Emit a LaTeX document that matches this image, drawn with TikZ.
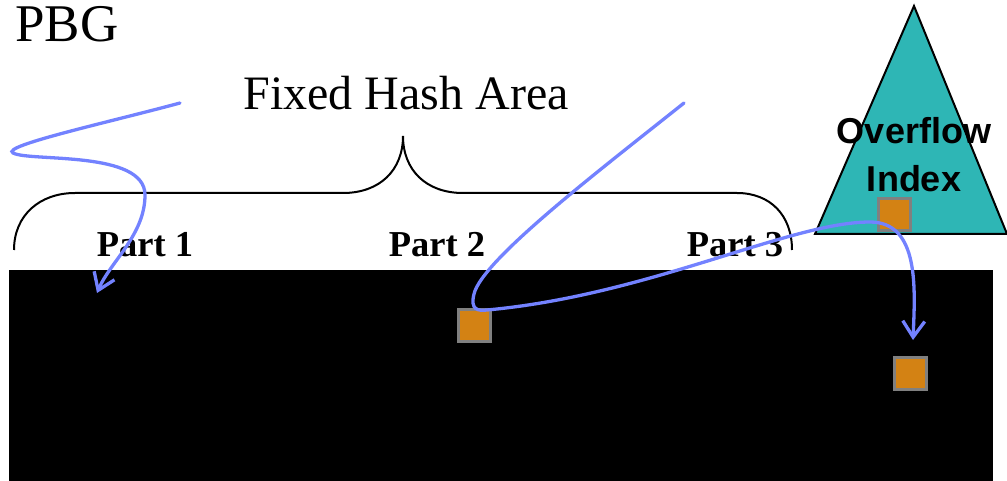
\documentclass[tikz,border=0pt]{standalone}
\usepackage{fontspec}
\setmainfont{Liberation Serif}
\newfontfamily\arialfont{Liberation Sans}
\usetikzlibrary{arrows.meta}
\definecolor{linkblue}{RGB}{115,130,255}
\definecolor{treeteal}{RGB}{46,182,181}
\definecolor{pageorange}{RGB}{211,130,20}
\definecolor{edgegray}{RGB}{128,128,128}
\tikzset{
  page/.style={draw=edgegray, line width=3pt, fill=pageorange, minimum size=32pt, inner sep=0pt},
  link/.style={draw=linkblue, line width=3.3pt, line cap=round},
  linkarrow/.style={link, -{Straight Barb[length=16pt,width=22pt,line width=3.3pt]}},
  partlabel/.style={font=\fontsize{36.5}{40}\selectfont\bfseries, anchor=base, inner sep=0pt},
  bracepath/.style={draw=black, line width=2pt},
  ovlabel/.style={anchor=base, inner sep=0pt, font=\arialfont\fontsize{36}{40}\selectfont\bfseries},
}
\begin{document}
\begin{tikzpicture}[x=1pt,y=-1pt]
\useasboundingbox (0,0) rectangle (1007,481);
% black area
\fill[black] (9,270) rectangle (993,481);
% overflow triangle
\filldraw[fill=treeteal, draw=black, line width=2pt] (815,234) -- (914,6) -- (1007,234) -- cycle;
% pages
\node[page] (s1) at (894.5,215) {};
\node[page] (s2) at (474.5,325) {};
\node[page] (s3) at (910.5,373) {};
% texts
\node[anchor=base west, inner sep=0pt, font=\fontsize{53}{60}\selectfont] (pbg) at (15,42) {PBG};
\node[anchor=base, inner sep=0pt, font=\fontsize{48}{54}\selectfont] (fha) at (406,110) {Fixed Hash Area};
\node[partlabel] (p1) at (145,257) {Part 1};
\node[partlabel] (p2) at (437,257) {Part 2};
\node[partlabel] (p3) at (735,257) {Part 3};
\node[ovlabel] (ov1) at (914,144) {Overflow};
\node[ovlabel] (ov2) at (914,192) {Index};
% brace
\draw[bracepath] (14,250) .. controls (14,215) and (40,193) .. (75,193) -- (343,193)
  .. controls (380,193) and (403,170) .. (403,136)
  .. controls (403,170) and (426,193) .. (463,193) -- (737,193)
  .. controls (770,193) and (792,215) .. (792,250);
% links
\coordinate (a1) at (180,103);
\coordinate (t1) at (97,293);
\coordinate (a2) at (684,103);
\coordinate (t2) at (913,340);
\draw[linkarrow] (a1) .. controls (110,122) and (0,146) .. (13,153)
  .. controls (30,162) and (145,150) .. (145,195)
  .. controls (145,235) and (110,262) .. (t1);
\draw[linkarrow] (a2) .. controls (600,170) and (482,260) .. (474,294)
  .. controls (470,310) and (478,311) .. (487,310)
  .. controls (650,295) and (790,222) .. (870,222)
  .. controls (920,222) and (915,290) .. (t2);
\end{tikzpicture}
\end{document}
